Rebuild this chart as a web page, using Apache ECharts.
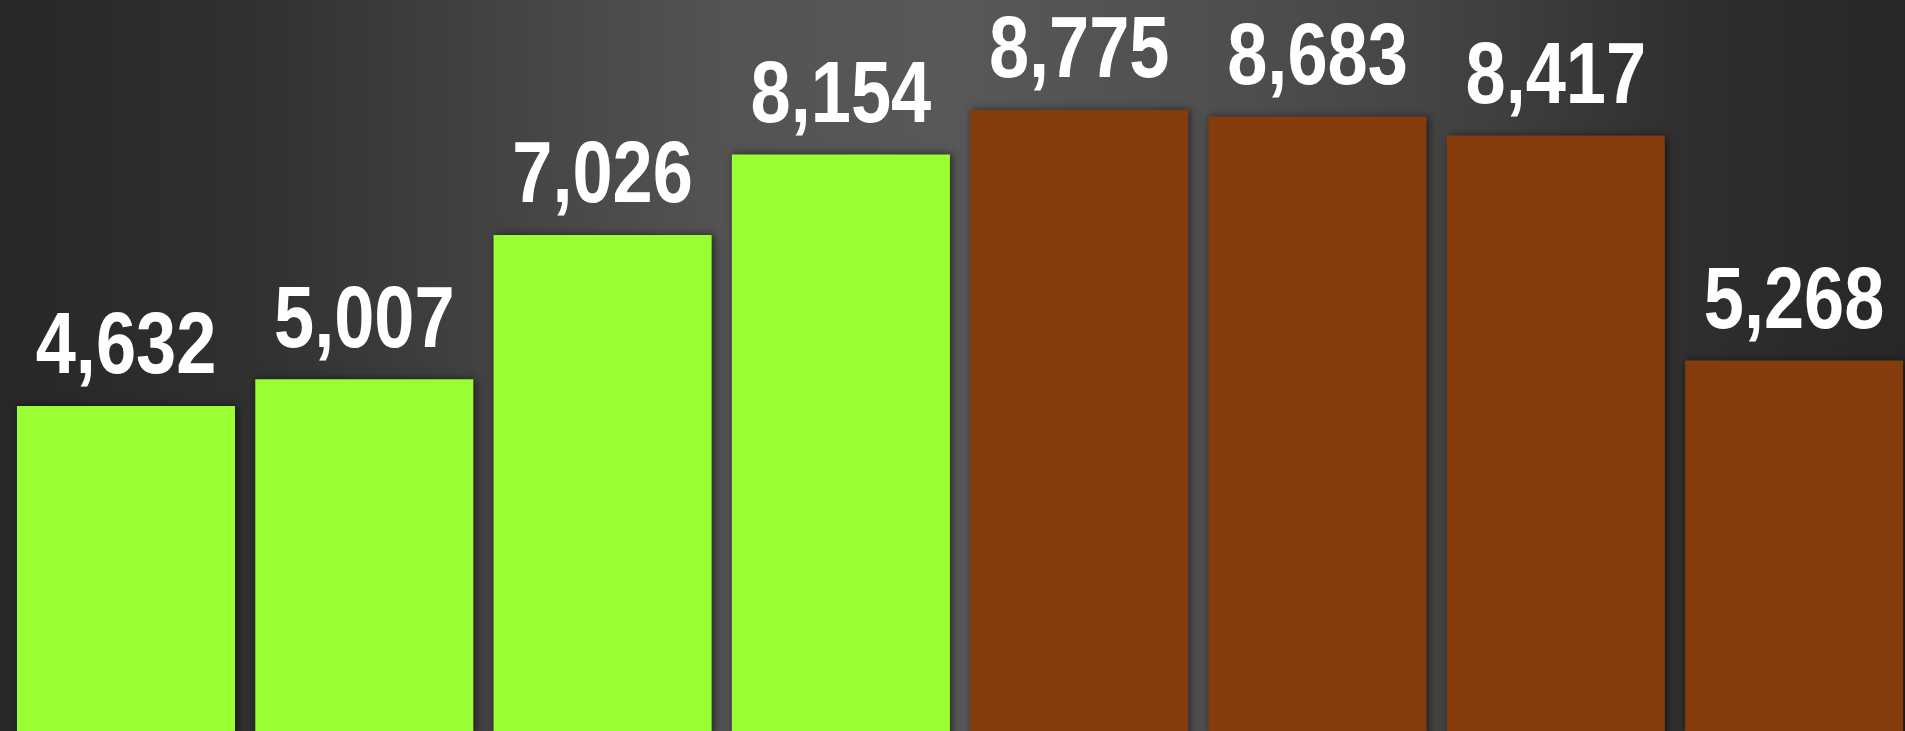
<!DOCTYPE html>
<html>
<head>
<meta charset="utf-8">
<title>bar chart</title>
<script src="https://cdn.jsdelivr.net/npm/echarts@6/dist/echarts.min.js"></script>
<style>
html,body{margin:0;padding:0;width:100%;height:100%;overflow:hidden;background:#2b2b2b}
#main{width:1905px;height:731px}
</style>
</head>
<body>
<div id="main"></div>
<script type="text/javascript">
// data
var categories = ['1', '2', '3', '4', '5', '6', '7', '8'];
var values = [4632, 5007, 7026, 8154, 8775, 8683, 8417, 5268];
var groups = ['a', 'a', 'a', 'a', 'b', 'b', 'b', 'b'];

var groupColor = {a: '#99FF33', b: '#843C0C'};

// label points: [category index, value]
var labelData = values.map(function (v, i) { return [i, v]; });

var myChart = echarts.init(document.getElementById('main'));
var option = {
    // light in the middle, dark to the sides
    backgroundColor: {
        type: 'linear',
        x: 0, y: 0, x2: 1, y2: 0,
        colorStops: [
            {offset: 0, color: '#272727'},
            {offset: 0.129, color: '#303030'},
            {offset: 0.255, color: '#424242'},
            {offset: 0.378, color: '#535353'},
            {offset: 0.5, color: '#585858'},
            {offset: 0.625, color: '#505050'},
            {offset: 0.745, color: '#454545'},
            {offset: 0.892, color: '#2e2e2e'},
            {offset: 1, color: '#272727'}
        ]
    },
    animation: false,
    grid: {left: 6.85, width: 1906.4, top: 22.5, height: 714.5, outerBoundsMode: 'none', containLabel: false},
    xAxis: {
        type: 'category',
        data: categories,
        show: false
    },
    yAxis: {
        type: 'value',
        min: 0,
        max: 10000,
        show: false,
        splitLine: {show: false}
    },
    series: [{
        type: 'bar',
        data: values,
        barCategoryGap: '8.5%',
        itemStyle: {
            color: function (p) { return groupColor[groups[p.dataIndex]]; },
            shadowBlur: 8,
            shadowColor: 'rgba(0,0,0,0.55)',
            shadowOffsetX: 2,
            shadowOffsetY: 0
        },
        z: 2
    }, {
        // value labels, squeezed sideways like a narrow font
        type: 'custom',
        data: labelData,
        encode: {x: 0, y: 1},
        z: 3,
        renderItem: function (params, api) {
            var pt = api.coord([api.value(0), api.value(1)]);
            return {
                type: 'text',
                x: pt[0],
                y: pt[1] - 13,
                scaleX: 0.82,
                style: {
                    text: api.value(1).toLocaleString('en-US'),
                    fill: '#ffffff',
                    font: 'bold 88px "Liberation Sans", Arial, sans-serif',
                    align: 'center',
                    verticalAlign: 'bottom'
                }
            };
        }
    }]
};
myChart.setOption(option);
</script>
</body>
</html>
